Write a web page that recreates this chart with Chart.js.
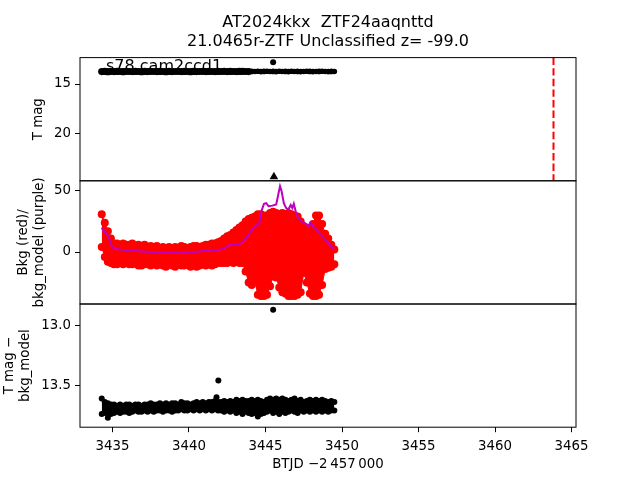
<!DOCTYPE html>
<html>
<head>
<meta charset="utf-8">
<script src="https://cdn.jsdelivr.net/npm/chart.js@4/dist/chart.umd.min.js"></script>
<style>
  html, body { margin: 0; padding: 0; background: #fff; }
  #wrap { width: 640px; height: 480px; position: relative; }
</style>
</head>
<body>
<div id="wrap"><canvas id="lc" width="640" height="480"></canvas></div>
<script>
// time grid (BTJD - 2457000)
const gridTime = [3434.3, 3434.5, 3434.7, 3434.9, 3435.1, 3435.3, 3435.5, 3435.7, 3435.9, 3436.1,
  3436.3, 3436.5, 3436.7, 3436.9, 3437.1, 3437.3, 3437.5, 3437.7, 3437.9, 3438.1,
  3438.3, 3438.5, 3438.7, 3438.9, 3439.1, 3439.3, 3439.5, 3439.7, 3439.9, 3440.1,
  3440.3, 3440.5, 3440.7, 3440.9, 3441.1, 3441.3, 3441.5, 3441.7, 3441.9, 3442.1,
  3442.3, 3442.5, 3442.7, 3442.9, 3443.1, 3443.3, 3443.5, 3443.7, 3443.9, 3444.1,
  3444.3, 3444.5, 3444.7, 3444.9, 3445.1, 3445.3, 3445.5, 3445.7, 3445.9, 3446.1,
  3446.3, 3446.5, 3446.7, 3446.9, 3447.1, 3447.3, 3447.5, 3447.7, 3447.9, 3448.1,
  3448.3, 3448.5, 3448.7, 3448.9, 3449.1, 3449.3, 3449.5];

// top panel: T mag
const tMag = [13.74, 13.72, 13.75, 13.71, 13.74, 13.72, 13.73, 13.75, 13.71, 13.73,
  13.74, 13.72, 13.73, 13.75, 13.72, 13.74, 13.71, 13.73, 13.74, 13.72,
  13.73, 13.75, 13.72, 13.74, 13.73, 13.71, 13.74, 13.72, 13.73, 13.75,
  13.72, 13.74, 13.73, 13.71, 13.74, 13.72, 13.73, 13.74, 13.72, 13.73,
  13.71, 13.74, 13.72, 13.73, 13.74, 13.72, 13.71, 13.73, 13.74, 13.72,
  13.73, 13.71, 13.74, 13.72, 13.70, 13.73, 13.72, 13.74, 13.71, 13.73,
  13.72, 13.74, 13.71, 13.73, 13.72, 13.74, 13.73, 13.71, 13.72, 13.74,
  13.73, 13.72, 13.71, 13.73, 13.74, 13.72, 13.73];
const tOutTime = [3445.5];
const tOutMag = [12.8];
const limitTime = [3445.55];
const limitMag = [24.4];
const peakTime = [3463.82];

// middle panel: background (red spread, upper and lower edge) and model (purple)
const bkgTop = [31, 24, 17, 11, 7, 7, 6, 7, 6, 6,
  7, 5, 6, 5, 6, 4, 5, 4, 5, 3,
  4, 3, 4, 3, 4, 3, 5, 4, 3, 4,
  5, 5, 4, 5, 6, 6, 7, 7, 8, 9,
  11, 13, 14, 16, 18, 20, 22, 25, 27, 28,
  29, 31, 31, 30, 30, 32, 33, 32, 31, 32,
  31, 32, 31, 30, 29, 25, 21, 20, 19, 23,
  30, 30, 23, 15, 11, 6, 2];
const bkgBottom = [4, -4, -8, -9, -10, -10, -9, -10, -9, -10,
  -10, -9, -11, -11, -10, -10, -11, -9, -11, -10,
  -11, -12, -10, -11, -12, -10, -11, -11, -10, -12,
  -11, -12, -11, -10, -11, -10, -11, -10, -9, -9,
  -9, -9, -8, -9, -8, -9, -9, -16, -25, -27,
  -24, -35, -36, -36, -35, -28, -20, -21, -29, -33,
  -34, -36, -36, -36, -35, -33, -17, -25, -34, -36,
  -36, -35, -27, -14, -13, -12, -10];
const modelTime = [3434.3, 3434.45, 3434.6, 3434.75, 3434.85, 3435.0, 3435.3, 3435.6, 3436.0, 3436.5,
  3437.0, 3437.5, 3438.0, 3438.5, 3439.0, 3439.5, 3440.0, 3440.5, 3441.0, 3441.5,
  3442.0, 3442.3, 3442.6, 3442.9, 3443.2, 3443.5, 3443.7, 3443.9, 3444.1, 3444.3,
  3444.5, 3444.6, 3444.75, 3444.9, 3445.05, 3445.2, 3445.45, 3445.7, 3445.85, 3445.95,
  3446.05, 3446.2, 3446.35, 3446.5, 3446.65, 3446.75, 3446.85, 3447.0, 3447.15, 3447.35,
  3447.6, 3447.8, 3447.95, 3448.1, 3448.35, 3448.6, 3448.9, 3449.2, 3449.5];
const bkgModel = [20, 17, 15, 13, 8, 3.5, 2.5, 1.8, 1.5, 1,
  0.5, 0, -0.3, -0.8, -0.5, -0.8, -0.2, 0.3, 0.8, 1.2,
  1.8, 3, 5.5, 6, 6.5, 7.5, 11, 14, 18, 21,
  22.5, 24, 34, 39.5, 40, 37.5, 38, 39, 48, 54,
  50, 40, 36, 35, 38.5, 36, 39.5, 32, 27.5, 25,
  23.5, 21, 24, 21, 18, 14.5, 10, 6, 1.8];

// bottom panel: T mag - bkg_model (upper and lower edge of the band)
const diffTop = [13.61, 13.64, 13.65, 13.66, 13.66, 13.67, 13.66, 13.67, 13.66, 13.66,
  13.67, 13.66, 13.66, 13.67, 13.66, 13.66, 13.65, 13.66, 13.66, 13.65,
  13.66, 13.65, 13.66, 13.65, 13.65, 13.66, 13.64, 13.65, 13.65, 13.66,
  13.65, 13.64, 13.65, 13.64, 13.65, 13.64, 13.64, 13.63, 13.64, 13.64,
  13.63, 13.64, 13.63, 13.64, 13.62, 13.63, 13.62, 13.63, 13.63, 13.62,
  13.63, 13.62, 13.63, 13.64, 13.62, 13.61, 13.62, 13.61, 13.62, 13.61,
  13.62, 13.63, 13.62, 13.61, 13.63, 13.62, 13.64, 13.63, 13.62, 13.63,
  13.62, 13.63, 13.62, 13.63, 13.64, 13.63, 13.64];
const diffBottom = [13.74, 13.73, 13.77, 13.74, 13.73, 13.72, 13.73, 13.72, 13.72, 13.73,
  13.72, 13.71, 13.72, 13.72, 13.71, 13.72, 13.71, 13.72, 13.71, 13.71,
  13.72, 13.71, 13.71, 13.72, 13.71, 13.71, 13.70, 13.71, 13.71, 13.70,
  13.71, 13.70, 13.71, 13.70, 13.71, 13.70, 13.71, 13.70, 13.71, 13.71,
  13.72, 13.71, 13.72, 13.71, 13.73, 13.72, 13.74, 13.72, 13.73, 13.74,
  13.73, 13.76, 13.74, 13.73, 13.72, 13.71, 13.73, 13.72, 13.74, 13.72,
  13.73, 13.72, 13.71, 13.72, 13.73, 13.71, 13.72, 13.71, 13.72, 13.71,
  13.72, 13.71, 13.72, 13.71, 13.72, 13.71, 13.71];
const diffOutTime = [3441.8, 3441.92, 3445.5];
const diffOutMag = [13.60, 13.46, 12.87];

// ticks
const xTicks = [3435, 3440, 3445, 3450, 3455, 3460, 3465];
const yTopTicks = [15, 20];
const yBkgTicks = [0, 50];
const yDiffTicks = [13.0, 13.5];

// axis limits
const xMin = 3432.88, xMax = 3465.29;
const topMin = 12.32, topMax = 24.81;
const bkgMin = -42.62, bkgMax = 58.36;
const diffMin = 12.8225, diffMax = 13.849;

const FONT = 'DejaVu Sans';
const pts = (xs, ys) => xs.map((x, i) => ({ x: x, y: ys[i] }));

const fixTicks = (list) => (scale) => { scale.ticks = list.map(v => ({ value: v })); };

const yScale = (min, max, rev, ticks, fmt) => ({
  type: 'linear',
  position: 'left',
  stack: 'panels',
  stackWeight: 1,
  min: min,
  max: max,
  reverse: rev,
  afterBuildTicks: fixTicks(ticks),
  afterFit: (s) => { s.width = 80; },
  border: { display: false },
  grid: { display: true, drawOnChartArea: false, drawTicks: true, tickLength: 5, tickColor: '#000', tickWidth: 1 },
  ticks: { color: '#000', padding: 4, font: { family: FONT, size: 13.33 }, callback: fmt }
});

// frames, titles and labels drawn like matplotlib
const decor = {
  id: 'decor',
  afterDraw(chart) {
    const ctx = chart.ctx;
    const a = chart.chartArea;
    ctx.save();
    ctx.strokeStyle = '#000';
    ctx.lineWidth = 1;
    ['yTop', 'yBkg', 'yDiff'].forEach(id => {
      const s = chart.scales[id];
      ctx.strokeRect(a.left, s.top, a.right - a.left, s.bottom - s.top);
    });
    ctx.fillStyle = '#000';
    const cx = (a.left + a.right) / 2;
    ctx.textAlign = 'center';
    ctx.textBaseline = 'alphabetic';
    ctx.font = '16px "' + FONT + '"';
    ctx.fillText('AT2024kkx  ZTF24aaqnttd', cx, 26.5);
    ctx.fillText('21.0465r-ZTF Unclassified z= -99.0', cx, 45.5);

    ctx.textAlign = 'left';
    const sx = chart.scales.x.getPixelForValue(3434.35);
    ctx.fillText('s78 cam2ccd1', sx + 3.5, 70.5);

    ctx.font = '13.33px "' + FONT + '"';
    ctx.textAlign = 'center';
    ctx.fillText('BTJD \u22122\u2009457\u2009000', cx, 467.5);

    const ylab = (lines, x, id) => {
      const s = chart.scales[id];
      ctx.save();
      ctx.translate(x, (s.top + s.bottom) / 2);
      ctx.rotate(-Math.PI / 2);
      ctx.textAlign = 'center';
      ctx.textBaseline = 'middle';
      const step = 16;
      lines.forEach((t, i) => {
        ctx.fillText(t, 0, (i - (lines.length - 1) / 2) * step);
      });
      ctx.restore();
    };
    ylab(['T mag'], 39, 'yTop');
    ylab(['Bkg (red)/', 'bkg_model (purple)'], 32, 'yBkg');
    ylab(['T mag \u2212', 'bkg_model'], 18, 'yDiff');
    ctx.restore();
  }
};

new Chart(document.getElementById('lc'), {
  type: 'scatter',
  data: {
    datasets: [
      { data: pts(gridTime, tMag), yAxisID: 'yTop', pointBorderWidth: 0,
        pointRadius: (c) => (c.raw && c.raw.x > 3444 ? 2.8 : 3.6),
        backgroundColor: '#000', order: 0 },
      { data: pts(tOutTime, tOutMag), yAxisID: 'yTop', pointRadius: 3, pointBorderWidth: 0,
        backgroundColor: '#000', order: 0 },
      { data: pts(limitTime, limitMag), yAxisID: 'yTop', pointStyle: 'triangle', pointRadius: 5,
        pointBorderWidth: 0, backgroundColor: '#000', order: 0 },
      { type: 'line', data: [{ x: peakTime[0], y: topMin }, { x: peakTime[0], y: topMax }], yAxisID: 'yTop',
        borderColor: '#ff0000', borderWidth: 2, borderDash: [7.4, 3.2], pointRadius: 0, fill: false, order: 0 },
      { type: 'line', data: pts(modelTime, bkgModel), yAxisID: 'yBkg', borderColor: '#bf00bf',
        borderWidth: 2, pointRadius: 0, tension: 0, fill: false, order: 0 },
      { type: 'line', data: pts(gridTime, bkgTop), yAxisID: 'yBkg', borderColor: '#ff0000', borderWidth: 1,
        pointRadius: 4, pointBorderWidth: 0, pointBackgroundColor: '#ff0000', backgroundColor: '#ff0000',
        tension: 0, fill: '+1', order: 1 },
      { type: 'line', data: pts(gridTime, bkgBottom), yAxisID: 'yBkg', borderColor: '#ff0000', borderWidth: 1,
        pointRadius: 4, pointBorderWidth: 0, pointBackgroundColor: '#ff0000', backgroundColor: '#ff0000',
        tension: 0, fill: false, order: 1 },
      { type: 'line', data: pts(gridTime, diffTop), yAxisID: 'yDiff', borderColor: '#000', borderWidth: 1,
        pointRadius: 3, pointBorderWidth: 0, pointBackgroundColor: '#000', backgroundColor: '#000',
        tension: 0, fill: '+1', order: 0 },
      { type: 'line', data: pts(gridTime, diffBottom), yAxisID: 'yDiff', borderColor: '#000', borderWidth: 1,
        pointRadius: 3, pointBorderWidth: 0, pointBackgroundColor: '#000', backgroundColor: '#000',
        tension: 0, fill: false, order: 0 },
      { data: pts(diffOutTime, diffOutMag), yAxisID: 'yDiff', pointRadius: 3, pointBorderWidth: 0,
        backgroundColor: '#000', order: 0 }
    ]
  },
  options: {
    responsive: false,
    animation: false,
    events: [],
    devicePixelRatio: 1,
    layout: { padding: { top: 57.6, right: 64, left: 0, bottom: 0 } },
    plugins: { legend: { display: false }, tooltip: { enabled: false }, title: { display: false } },
    scales: {
      x: {
        type: 'linear',
        position: 'bottom',
        min: xMin,
        max: xMax,
        afterBuildTicks: fixTicks(xTicks),
        afterFit: (s) => { s.height = 52.8; },
        border: { display: false },
        grid: { display: true, drawOnChartArea: false, drawTicks: true, tickLength: 5, tickColor: '#000', tickWidth: 1 },
        ticks: { color: '#000', padding: 6, maxRotation: 0, autoSkip: false, font: { family: FONT, size: 13.33 },
          callback: (v) => String(v) }
      },
      // stacked panels are laid out bottom-up, so the lowest panel comes first
      yDiff: yScale(diffMin, diffMax, true, yDiffTicks, (v) => v.toFixed(1)),
      yBkg: yScale(bkgMin, bkgMax, false, yBkgTicks, (v) => String(v)),
      yTop: yScale(topMin, topMax, true, yTopTicks, (v) => String(v))
    }
  },
  plugins: [decor]
});
</script>
</body>
</html>
